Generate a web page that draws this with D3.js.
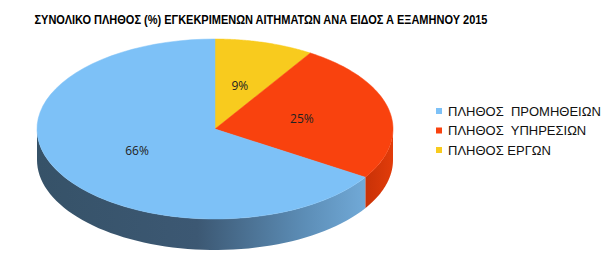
<!DOCTYPE html>
<html>
<head>
<meta charset="utf-8">
<script src="https://cdn.jsdelivr.net/npm/d3@7"></script>
<style>
  body { margin: 0; background: #fff; }
</style>
</head>
<body>
<svg id="chart" width="613" height="259"></svg>
<script>
// data, in legend order
const categories = ["ΠΛΗΘΟΣ  ΠΡΟΜΗΘΕΙΩΝ", "ΠΛΗΘΟΣ  ΥΠΗΡΕΣΙΩΝ", "ΠΛΗΘΟΣ ΕΡΓΩΝ"];
const values = [66, 25, 9];
const labels = ["66%", "25%", "9%"];
const colors = ["#7dc1f7", "#f9420e", "#f8cb1e"];

const svg = d3.select("#chart");
const cx = 215, cy = 129, rx = 178, ry = 90, depth = 31;

const pt = (a, f = 1, dy = 0) => [cx + rx * f * Math.sin(a), cy - ry * f * Math.cos(a) + dy];

// pie is drawn clockwise from 12 o'clock, last category first
const rows = categories.map((c, i) => ({ name: c, value: values[i], label: labels[i], color: colors[i], i }));
const pie = d3.pie().sort(null).value(d => d.value).startAngle(0).endAngle(2 * Math.PI);
const arcs = pie(rows.slice().reverse());

const defs = svg.append("defs");
const gBlue = defs.append("linearGradient").attr("id", "sideBlue")
  .attr("gradientUnits", "userSpaceOnUse")
  .attr("x1", cx - rx).attr("x2", cx + rx).attr("y1", 0).attr("y2", 0);
gBlue.append("stop").attr("offset", "0%").attr("stop-color", "#365268");
gBlue.append("stop").attr("offset", "45%").attr("stop-color", "#3c5873");
gBlue.append("stop").attr("offset", "75%").attr("stop-color", "#5c8db6");
gBlue.append("stop").attr("offset", "100%").attr("stop-color", "#7ab6e6");
const gRed = defs.append("linearGradient").attr("id", "sideRed")
  .attr("x1", "0").attr("x2", "1").attr("y1", 0).attr("y2", 0);
gRed.append("stop").attr("offset", "0%").attr("stop-color", "#c83207");
gRed.append("stop").attr("offset", "100%").attr("stop-color", "#e23c0a");
const sideFill = { "#7dc1f7": "url(#sideBlue)", "#f9420e": "url(#sideRed)", "#f8cb1e": "#c9a010" };

const line = d3.line();
const sample = (a0, a1, f = 1, dy = 0) => d3.range(0, 61).map(k => pt(a0 + (a1 - a0) * k / 60, f, dy));

// side walls (only the front half is visible)
arcs.forEach(d => {
  const s = Math.max(d.startAngle, Math.PI / 2);
  const e = Math.min(d.endAngle, 3 * Math.PI / 2);
  if (e <= s) return;
  const pts = sample(s, e).concat(sample(e, s, 1, depth));
  svg.append("path").attr("d", line(pts) + "Z")
    .attr("fill", sideFill[d.data.color]);
});

// top faces
arcs.forEach(d => {
  const pts = [[cx, cy]].concat(sample(d.startAngle, d.endAngle));
  svg.append("path").attr("d", line(pts) + "Z")
    .attr("fill", d.data.color)
    .attr("stroke", d.data.color).attr("stroke-width", 0.5);
});

// data labels
arcs.forEach(d => {
  const [x, y] = pt((d.startAngle + d.endAngle) / 2, 0.5);
  svg.append("text").attr("x", x).attr("y", y).attr("dy", "0.35em")
    .attr("text-anchor", "middle")
    .style("font-family", "'Open Sans', sans-serif").style("font-size", "12px")
    .attr("fill", "#222").text(d.data.label);
});

// title
svg.append("text").attr("x", 261).attr("y", 24).attr("text-anchor", "middle")
  .style("font-family", "'Liberation Sans Narrow', 'Liberation Sans', Arial, sans-serif")
  .style("font-size", "12.5px").style("font-weight", "bold")
  .attr("textLength", 453).attr("lengthAdjust", "spacingAndGlyphs")
  .text("ΣΥΝΟΛΙΚΟ ΠΛΗΘΟΣ (%) ΕΓΚΕΚΡΙΜΕΝΩΝ ΑΙΤΗΜΑΤΩΝ ΑΝΑ ΕΙΔΟΣ Α ΕΞΑΜΗΝΟΥ 2015");

// legend
const legend = svg.append("g").attr("transform", "translate(436,111)");
rows.forEach((d, i) => {
  const g = legend.append("g").attr("transform", `translate(0,${i * 19.5})`);
  g.append("rect").attr("x", 0).attr("y", -3).attr("width", 6).attr("height", 6).attr("fill", d.color);
  g.append("text").attr("x", 12).attr("y", 0).attr("dy", "0.35em")
    .style("font-family", "'Liberation Sans', Arial, sans-serif").style("font-size", "13px")
    .style("white-space", "pre").attr("fill", "#111").text(d.name);
});
</script>
</body>
</html>
